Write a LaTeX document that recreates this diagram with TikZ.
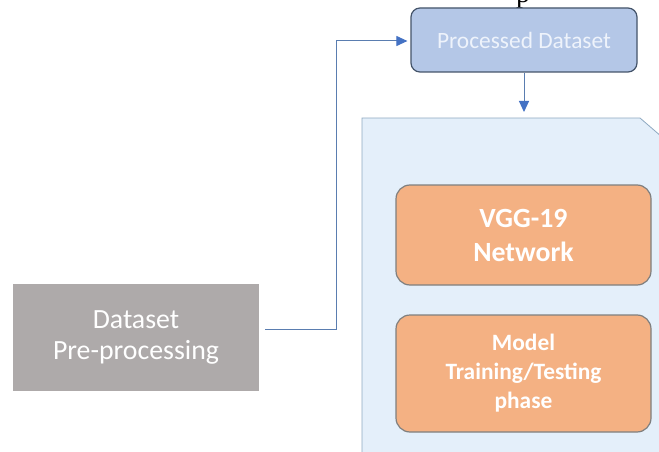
\documentclass[tikz,border=0pt]{standalone}
\usepackage{fontspec}
\setmainfont{Carlito}
\newfontfamily\serifp{Liberation Serif}
\usetikzlibrary{arrows.meta}
\definecolor{pdfill}{HTML}{B4C7E7}
\definecolor{pdborder}{HTML}{44546A}
\definecolor{pdtext}{HTML}{EEF3FB}
\definecolor{contfill}{HTML}{E4EFFA}
\definecolor{contborder}{HTML}{8EA9C1}
\definecolor{orfill}{HTML}{F4B183}
\definecolor{orborder}{HTML}{7F7F7F}
\definecolor{grfill}{HTML}{AEAAAA}
\definecolor{conn}{HTML}{5A7DB0}
\definecolor{tip}{HTML}{4472C4}
\tikzset{
  x=1pt,y=-1pt,
  procbox/.style={draw=pdborder,line width=1.2pt,fill=pdfill,rounded corners=9pt,minimum width=226pt,minimum height=64pt,text=pdtext,font=\fontsize{23.4}{28}\selectfont,inner sep=0pt},
  orbox/.style={draw=orborder,line width=1.2pt,fill=orfill,rounded corners=14pt,minimum width=255pt,text=white,align=center,inner sep=0pt},
  greybox/.style={fill=grfill,minimum width=246pt,minimum height=107pt,text=white,align=center,font=\fontsize{27.8}{30.5}\selectfont,inner sep=0pt},
  connector/.style={draw=conn,line width=1pt,-{Triangle[length=11pt,width=10pt,fill=tip,color=tip]}},
  connline/.style={draw=conn,line width=1pt}
}
\begin{document}
\begin{tikzpicture}
\clip (0,0) rectangle (659,452);
\fill[white] (0,0) rectangle (659,452);
\node[font=\serifp\fontsize{28}{32}\selectfont,anchor=base,inner sep=0pt] (ptext) at (523,2.5) {p};
\draw[draw=contborder,line width=0.8pt,fill=contfill] (362,470) -- (362,118) -- (640,118) -- (662,137) -- (662,470);
\node[procbox] (pd) at (524,40) {Processed Dataset};
\node[orbox,minimum height=100pt,font=\bfseries\fontsize{27.8}{34}\selectfont] (vgg) at (523.5,235) {VGG-19\\Network};
\node[orbox,minimum height=117pt,font=\bfseries\fontsize{23.4}{29}\selectfont] (model) at (523.5,373.5) {Model\\Training/Testing\\phase};
\node[greybox] (dpp) at (136,337.5) {Dataset\\Pre-processing};
\coordinate (c1) at (336,329);
\coordinate (c2) at (336,41);
\coordinate (c3) at (pd.south |- 0,112);
\draw[connline] ([xshift=6pt]dpp.east |- c1) -- (c1) -- (c2);
\draw[connector] (c2) -- ([xshift=-3pt]pd.west |- c2);
\draw[connector] (pd.south) -- (c3);
\end{tikzpicture}
\end{document}
